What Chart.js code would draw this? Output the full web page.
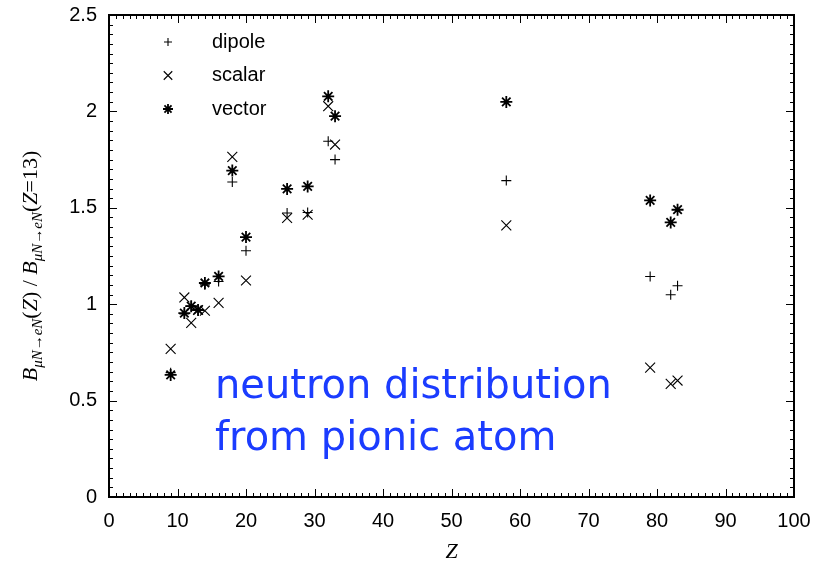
<!DOCTYPE html>
<html>
<head>
<meta charset="utf-8">
<script src="https://cdn.jsdelivr.net/npm/chart.js@4.4.1/dist/chart.umd.min.js"></script>
<style>
  html, body { margin: 0; padding: 0; background: #fff; }
  #wrap { width: 817px; height: 565px; position: relative; }
</style>
</head>
<body>
<div id="wrap"><canvas id="c"></canvas></div>
<script>
// Atomic numbers of the target nuclei
const zValues = [9, 11, 12, 13, 14, 16, 18, 20, 26, 29, 32, 33, 58, 79, 82, 83];
// Ratio B(Z) / B(Z=13) for each coupling type
const dipole = [0.645, 0.95, 0.99, 0.97, 1.10, 1.118, 1.634, 1.277, 1.473, 1.476, 1.845, 1.75, 1.641, 1.144, 1.049, 1.096];
const scalar = [0.768, 1.035, 0.903, 0.97, 0.966, 1.007, 1.764, 1.123, 1.447, 1.464, 2.027, 1.828, 1.409, 0.671, 0.587, 0.604];
const vector = [0.633, 0.954, 0.99, 0.97, 1.11, 1.144, 1.693, 1.348, 1.598, 1.611, 2.078, 1.975, 2.049, 1.538, 1.424, 1.490];
const seriesNames = ['dipole', 'scalar', 'vector'];
const xTicks = [0, 10, 20, 30, 40, 50, 60, 70, 80, 90, 100];
const yTicks = [0, 0.5, 1, 1.5, 2, 2.5];
const noteLines = ['neutron distribution', 'from pionic atom'];

const toPoints = vals => zValues.map((z, i) => ({ x: z, y: vals[i] }));

const styles = [
  { pointStyle: 'cross', radius: 5, width: 1.1 },
  { pointStyle: 'crossRot', radius: 7, width: 1.1 },
  { pointStyle: 'star', radius: 6, width: 1.8 }
];

const datasets = [dipole, scalar, vector].map((vals, i) => ({
  label: seriesNames[i],
  data: toPoints(vals),
  pointStyle: styles[i].pointStyle,
  pointRadius: styles[i].radius,
  pointHoverRadius: styles[i].radius,
  pointBorderWidth: styles[i].width,
  borderColor: '#000',
  backgroundColor: '#000',
  showLine: false
}));

// Frame with inward major/minor ticks on all four sides
const framePlugin = {
  id: 'frame',
  afterDatasetsDraw(chart) {
    const { ctx, chartArea: a, scales: { x, y } } = chart;
    ctx.save();
    ctx.strokeStyle = '#000';
    ctx.lineWidth = 1;
    for (let v = 0; v <= 100; v += 1) {
      const px = Math.round(x.getPixelForValue(v)) + 0.5;
      const len = v % 10 === 0 ? 8 : 4;
      ctx.beginPath();
      ctx.moveTo(px, a.bottom); ctx.lineTo(px, a.bottom - len);
      ctx.moveTo(px, a.top); ctx.lineTo(px, a.top + len);
      ctx.stroke();
    }
    for (let k = 0; k <= 50; k++) {
      const v = k * 0.05;
      const py = Math.round(y.getPixelForValue(v)) + 0.5;
      const len = k % 10 === 0 ? 8 : 4;
      ctx.beginPath();
      ctx.moveTo(a.left, py); ctx.lineTo(a.left + len, py);
      ctx.moveTo(a.right, py); ctx.lineTo(a.right - len, py);
      ctx.stroke();
    }
    ctx.lineWidth = 2;
    ctx.strokeRect(a.left, a.top, a.right - a.left, a.bottom - a.top);
    ctx.restore();
  }
};

// Legend drawn inside the plot area, top-left
const legendPlugin = {
  id: 'innerLegend',
  afterDatasetsDraw(chart) {
    const { ctx, chartArea: a } = chart;
    ctx.save();
    chart.data.datasets.forEach((ds, i) => {
      const yy = a.top + 27 + i * 33.5;
      ctx.strokeStyle = '#000';
      ctx.fillStyle = '#000';
      ctx.lineWidth = ds.pointBorderWidth;
      Chart.helpers.drawPoint(ctx, { pointStyle: ds.pointStyle, radius: ds.pointRadius - 1, borderWidth: ds.pointBorderWidth }, a.left + 59, yy);
      ctx.font = '20px "Liberation Sans", Arial, sans-serif';
      ctx.textBaseline = 'middle';
      ctx.textAlign = 'left';
      ctx.fillText(ds.label, a.left + 103, yy);
    });
    ctx.restore();
  }
};

// Axis titles (with subscripts) and the blue annotation
const textPlugin = {
  id: 'texts',
  afterDraw(chart) {
    const { ctx, chartArea: a } = chart;
    ctx.save();
    // x title
    ctx.fillStyle = '#000';
    ctx.font = 'italic 22px "Liberation Serif", "Times New Roman", serif';
    ctx.textAlign = 'center';
    ctx.textBaseline = 'alphabetic';
    ctx.fillText('Z', (a.left + a.right) / 2, 558);

    // y title, rotated
    const main = 22, sub = 15;
    const segs = [
      { t: 'B', it: true, s: main, d: 0 },
      { t: 'μN→eN', it: true, s: sub, d: 5 },
      { t: '(', it: false, s: main, d: 0 },
      { t: 'Z', it: true, s: main, d: 0 },
      { t: ') / ', it: false, s: main, d: 0 },
      { t: 'B', it: true, s: main, d: 0 },
      { t: 'μN→eN', it: true, s: sub, d: 5 },
      { t: '(', it: false, s: main, d: 0 },
      { t: 'Z', it: true, s: main, d: 0 },
      { t: '=13)', it: false, s: main, d: 0 }
    ];
    const fontOf = g => (g.it ? 'italic ' : '') + g.s + 'px "Liberation Serif", "Times New Roman", serif';
    let total = 0;
    segs.forEach(g => { ctx.font = fontOf(g); g.w = ctx.measureText(g.t).width; total += g.w; });
    ctx.translate(37, 266);
    ctx.rotate(-Math.PI / 2);
    ctx.textAlign = 'left';
    let cx = -total / 2;
    segs.forEach(g => { ctx.font = fontOf(g); ctx.fillText(g.t, cx, g.d); cx += g.w; });
    ctx.restore();

    // annotation
    ctx.save();
    ctx.fillStyle = '#1b3cff';
    ctx.textAlign = 'left';
    ctx.textBaseline = 'alphabetic';
    const fam = '"Comic Sans MS", "DejaVu Sans", sans-serif';
    let size = 38;
    ctx.font = size + 'px ' + fam;
    size = size * 397 / ctx.measureText(noteLines[0]).width;
    ctx.font = size + 'px ' + fam;
    ctx.fillText(noteLines[0], 215, 398);
    ctx.fillText(noteLines[1], 215, 450);
    ctx.restore();
  }
};

new Chart(document.getElementById('c'), {
  type: 'scatter',
  data: { datasets },
  options: {
    responsive: true,
    maintainAspectRatio: false,
    animation: false,
    layout: { padding: { left: 4, top: 15, right: 23, bottom: 0 } },
    plugins: { legend: { display: false }, tooltip: { enabled: false } },
    scales: {
      x: {
        type: 'linear', min: 0, max: 100,
        afterBuildTicks: s => { s.ticks = xTicks.map(v => ({ value: v })); },
        afterFit: s => { s.height = 68; s.paddingLeft = 0; s.paddingRight = 0; },
        grid: { display: false, drawTicks: false },
        border: { display: false },
        ticks: { color: '#000', padding: 12, font: { family: '"Liberation Sans", Arial, sans-serif', size: 20 } }
      },
      y: {
        type: 'linear', min: 0, max: 2.5,
        afterBuildTicks: s => { s.ticks = yTicks.map(v => ({ value: v })); },
        afterFit: s => { s.width = 105; s.paddingTop = 0; s.paddingBottom = 0; },
        grid: { display: false, drawTicks: false },
        border: { display: false },
        ticks: {
          color: '#000', padding: 12,
          font: { family: '"Liberation Sans", Arial, sans-serif', size: 20 },
          callback: v => String(v)
        }
      }
    }
  },
  plugins: [framePlugin, legendPlugin, textPlugin]
});
</script>
</body>
</html>
